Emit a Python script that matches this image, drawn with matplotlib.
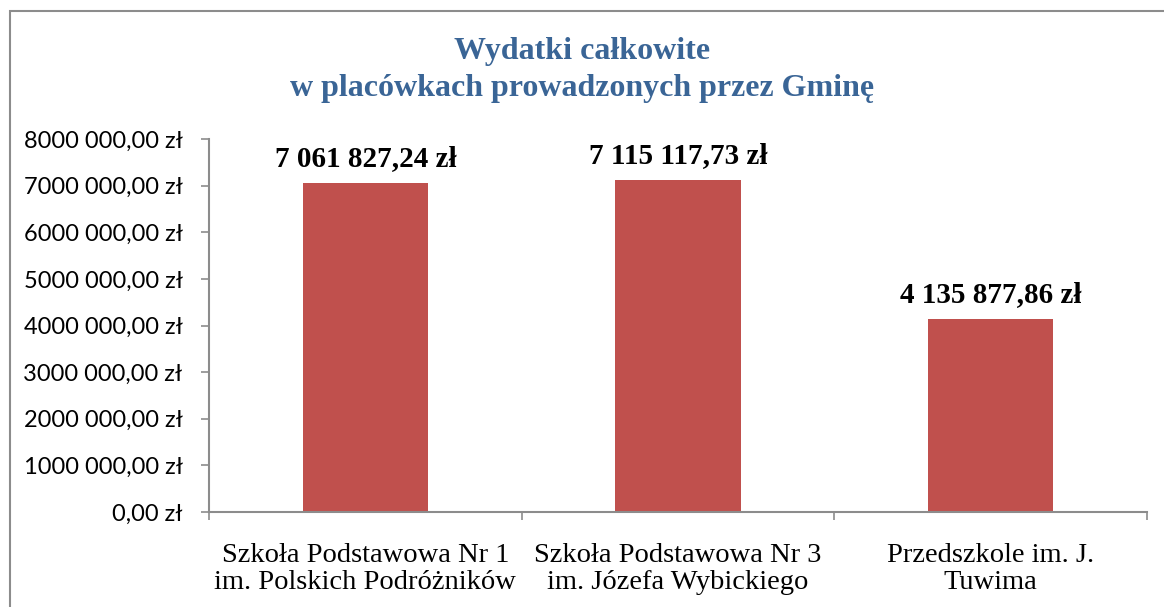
import matplotlib.pyplot as plt
from matplotlib.patches import Rectangle
from matplotlib.ticker import FuncFormatter

categories = ["Szkoła Podstawowa Nr 1\nim. Polskich Podróżników",
              "Szkoła Podstawowa Nr 3\nim. Józefa Wybickiego",
              "Przedszkole im. J.\nTuwima"]
values = [7061827.24, 7115117.73, 4135877.86]
value_labels = ["7 061 827,24 zł", "7 115 117,73 zł", "4 135 877,86 zł"]
yticks = [0, 1000000, 2000000, 3000000, 4000000, 5000000, 6000000, 7000000, 8000000]

fig = plt.figure(figsize=(11.64, 6.07), dpi=100)
ax = fig.add_axes([209 / 1164, 1 - 512 / 607, (1147 - 209) / 1164, (512 - 139) / 607])

# outer chart frame (runs past right and bottom edges)
fig.patches.append(Rectangle((10 / 1164, -0.05), 1.1, 1 - 11 / 607 + 0.05,
                             transform=fig.transFigure, fill=False,
                             edgecolor="#8c8c8c", linewidth=1.5))

x = range(len(categories))
ax.bar(x, values, width=0.4, color="#c0504d")
ax.set_xlim(-0.5, 2.5)
ax.set_ylim(0, 8000000)


def fmt(v, pos):
    if v == 0:
        return "0,00 zł"
    return "%d000 000,00 zł" % (v // 1000000)


ax.set_yticks(yticks)
ax.yaxis.set_major_formatter(FuncFormatter(fmt))
ax.tick_params(axis="y", labelsize=17, length=6, width=1.2, color="#8c8c8c", pad=13)
for t in ax.get_yticklabels():
    t.set_fontfamily("Lato")

ax.set_xticks([-0.5, 0.5, 1.5, 2.5], minor=False)
ax.set_xticklabels([])
ax.set_xticks(list(x), minor=True)
ax.set_xticklabels(categories, minor=True, fontsize=20.5, fontfamily="Liberation Serif",
                   linespacing=1.15)
ax.tick_params(axis="x", which="major", length=6, width=1.2, color="#8c8c8c")
ax.tick_params(axis="x", which="minor", length=0, pad=22)

for s in ["top", "right"]:
    ax.spines[s].set_visible(False)
for s in ["left", "bottom"]:
    ax.spines[s].set_color("#8c8c8c")
    ax.spines[s].set_linewidth(1.5)

for i, v in enumerate(values):
    ax.annotate(value_labels[i], (i, v), xytext=(0, 8), textcoords="offset points",
                ha="center", va="bottom", fontsize=21, fontweight="bold",
                fontfamily="Liberation Serif")

fig.text(0.5, 1 - 70 / 607, "Wydatki całkowite\nw placówkach prowadzonych przez Gminę",
         ha="center", va="center", fontsize=23, fontweight="bold",
         fontfamily="Liberation Serif", color="#3a6596", linespacing=1.4)

fig.savefig("out.png", dpi=100)
